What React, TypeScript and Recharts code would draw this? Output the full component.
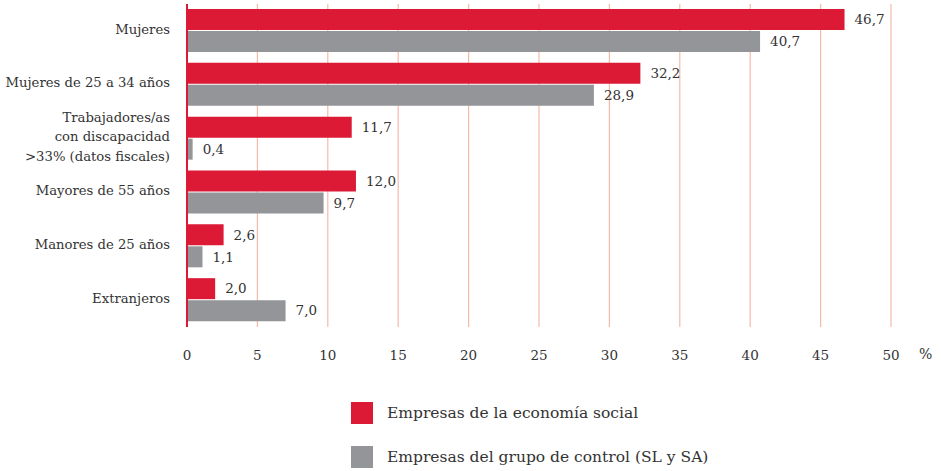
import { Bar, BarChart, CartesianGrid, LabelList, XAxis, YAxis } from "recharts";

const categories = [
  "Mujeres",
  "Mujeres de 25 a 34 años",
  "Trabajadores/as\ncon discapacidad\n>33% (datos fiscales)",
  "Mayores de 55 años",
  "Manores de 25 años",
  "Extranjeros",
];
const economiaSocial = [46.7, 32.2, 11.7, 12.0, 2.6, 2.0];
const grupoControl = [40.7, 28.9, 0.4, 9.7, 1.1, 7.0];
const xTicks = [0, 5, 10, 15, 20, 25, 30, 35, 40, 45, 50];

const RED = "#dc1a36";
const GRAY = "#939598";
const TEXT = "#333333";
const FONT = "DejaVu Serif";

const data = categories.map((name, i) => ({
  name,
  social: economiaSocial[i],
  control: grupoControl[i],
}));

const fmt = (v: any) => Number(v).toFixed(1).replace(".", ",");

function CategoryTick({ x, y, payload }: any) {
  const lines = String(payload.value).split("\n");
  const lh = 19.5;
  const start = -((lines.length - 1) * lh) / 2 - 2;
  return (
    <text x={x} y={y} textAnchor="end" fill={TEXT} style={{ fontFamily: FONT }} fontSize={13.2}>
      {lines.map((l, i) => (
        <tspan key={i} x={x} y={y + start + i * lh} dy="0.35em">
          {l}
        </tspan>
      ))}
    </text>
  );
}

const valueStyle = { fontFamily: FONT };

export default function App() {
  return (
    <div style={{ position: "absolute", left: 0, top: 0, width: 941, height: 471, background: "#fff" }}>
      <BarChart
        width={941}
        height={380}
        data={data}
        layout="vertical"
        margin={{ top: 4, right: 50, bottom: 13, left: 0 }}
        barSize={21}
        barGap={1}
      >
        <CartesianGrid horizontal={false} stroke="#f5b9ac" strokeWidth={1.2} />
        <XAxis
          type="number"
          domain={[0, 50]}
          ticks={xTicks}
          axisLine={false}
          tickLine={false}
          tickSize={0}
          tickMargin={23}
          height={40}
          tick={{ fill: TEXT, style: valueStyle, fontSize: 13.5 }}
        />
        <YAxis
          type="category"
          dataKey="name"
          width={187}
          tickLine={false}
          tickSize={0}
          tickMargin={17}
          axisLine={{ stroke: RED, strokeWidth: 2 }}
          tick={<CategoryTick />}
        />
        <Bar dataKey="social" fill={RED} isAnimationActive={false}>
          <LabelList dataKey="social" position="right" offset={10} formatter={fmt} fill={TEXT} style={valueStyle} fontSize={13.5} />
        </Bar>
        <Bar dataKey="control" fill={GRAY} isAnimationActive={false}>
          <LabelList dataKey="control" position="right" offset={10} formatter={fmt} fill={TEXT} style={valueStyle} fontSize={13.5} />
        </Bar>
      </BarChart>
      <div style={{ position: "absolute", left: 919, top: 346, fontFamily: FONT, fontSize: 14, color: TEXT }}>%</div>
      {[
        { label: "Empresas de la economía social", color: RED, top: 402 },
        { label: "Empresas del grupo de control (SL y SA)", color: GRAY, top: 446 },
      ].map((item) => (
        <div key={item.label} style={{ position: "absolute", left: 351, top: item.top, display: "flex", alignItems: "center" }}>
          <div style={{ width: 22, height: 22, background: item.color }} />
          <span style={{ marginLeft: 14, fontFamily: FONT, fontSize: 15.5, color: TEXT, lineHeight: "22px", whiteSpace: "nowrap" }}>
            {item.label}
          </span>
        </div>
      ))}
    </div>
  );
}
